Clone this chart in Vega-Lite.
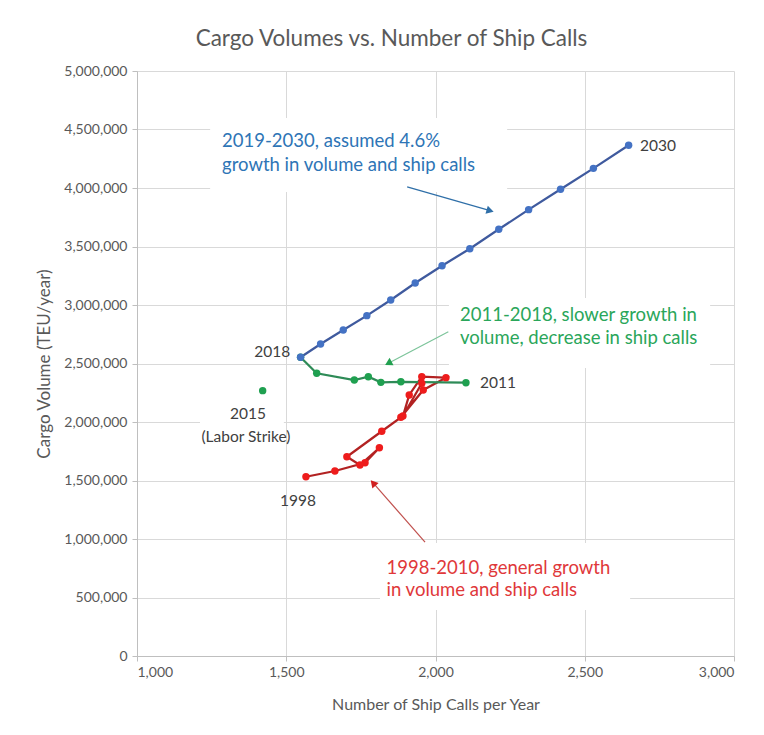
{
  "$schema": "https://vega.github.io/schema/vega-lite/v6.json",
  "width": 597,
  "height": 585,
  "autosize": "none",
  "padding": {"left": 137, "top": 71, "right": 30, "bottom": 79},
  "background": "white",
  "title": {
    "text": "Cargo Volumes vs. Number of Ship Calls",
    "font": "Lato",
    "fontSize": 22.5,
    "fontWeight": "normal",
    "color": "#595959",
    "anchor": "middle",
    "offset": 14,
    "dx": -44
  },
  "config": {
    "view": {"stroke": null},
    "axis": {
      "labelFont": "Lato",
      "titleFont": "Lato",
      "labelColor": "#595959",
      "titleColor": "#595959",
      "labelFontSize": 14,
      "titleFontSize": 16,
      "titleFontWeight": "normal",
      "gridColor": "#d9d9d9",
      "gridWidth": 1,
      "domainColor": "#bfbfbf",
      "tickColor": "#bfbfbf",
      "tickSize": 5
    }
  },
  "datasets": {
    "series": [
      {"series": "1998-2010", "seq": 1, "calls": 1566, "teu": 1532000},
      {"series": "1998-2010", "seq": 2, "calls": 1663, "teu": 1581000},
      {"series": "1998-2010", "seq": 3, "calls": 1764, "teu": 1652000},
      {"series": "1998-2010", "seq": 4, "calls": 1812, "teu": 1780000},
      {"series": "1998-2010", "seq": 5, "calls": 1747, "teu": 1632000},
      {"series": "1998-2010", "seq": 6, "calls": 1703, "teu": 1703000},
      {"series": "1998-2010", "seq": 7, "calls": 1820, "teu": 1921000},
      {"series": "1998-2010", "seq": 8, "calls": 1884, "teu": 2040000},
      {"series": "1998-2010", "seq": 9, "calls": 1959, "teu": 2274000},
      {"series": "1998-2010", "seq": 10, "calls": 2035, "teu": 2379000},
      {"series": "1998-2010", "seq": 11, "calls": 1954, "teu": 2387000},
      {"series": "1998-2010", "seq": 12, "calls": 1912, "teu": 2231000},
      {"series": "1998-2010", "seq": 13, "calls": 1891, "teu": 2051000},
      {"series": "1998-2010", "seq": 14, "calls": 1954, "teu": 2331000},
      {"series": "2011-2018", "seq": 2011, "calls": 2102, "teu": 2336000},
      {"series": "2011-2018", "seq": 2012, "calls": 1884, "teu": 2344000},
      {"series": "2011-2018", "seq": 2013, "calls": 1817, "teu": 2339000},
      {"series": "2011-2018", "seq": 2014, "calls": 1775, "teu": 2387000},
      {"series": "2011-2018", "seq": 2016, "calls": 1728, "teu": 2359000},
      {"series": "2011-2018", "seq": 2017, "calls": 1602, "teu": 2416000},
      {"series": "2011-2018", "seq": 2018, "calls": 1548, "teu": 2553000},
      {"series": "2015", "seq": 2015, "calls": 1421, "teu": 2268000},
      {"series": "2019-2030", "seq": 2018, "calls": 1548, "teu": 2553000},
      {"series": "2019-2030", "seq": 2019, "calls": 1615, "teu": 2667000},
      {"series": "2019-2030", "seq": 2020, "calls": 1691, "teu": 2786000},
      {"series": "2019-2030", "seq": 2021, "calls": 1770, "teu": 2909000},
      {"series": "2019-2030", "seq": 2022, "calls": 1850, "teu": 3043000},
      {"series": "2019-2030", "seq": 2023, "calls": 1932, "teu": 3188000},
      {"series": "2019-2030", "seq": 2024, "calls": 2022, "teu": 3336000},
      {"series": "2019-2030", "seq": 2025, "calls": 2115, "teu": 3481000},
      {"series": "2019-2030", "seq": 2026, "calls": 2212, "teu": 3647000},
      {"series": "2019-2030", "seq": 2027, "calls": 2312, "teu": 3815000},
      {"series": "2019-2030", "seq": 2028, "calls": 2419, "teu": 3989000},
      {"series": "2019-2030", "seq": 2029, "calls": 2529, "teu": 4168000},
      {"series": "2019-2030", "seq": 2030, "calls": 2647, "teu": 4365000}
    ],
    "boxes": [
      {"box": "blue", "x1": 1245, "x2": 2240, "y1": 4598000, "y2": 3966000},
      {"box": "green", "x1": 2045, "x2": 2920, "y1": 3060000, "y2": 2462000},
      {"box": "red", "x1": 1814, "x2": 2652, "y1": 966000, "y2": 393000},
      {"box": "strike", "x1": 1211, "x2": 1492, "y1": 2162000, "y2": 1786000}
    ],
    "arrows": [
      {"group": "blue", "x1": 1905, "y1": 4009000, "x2": 2183, "y2": 3806000},
      {"group": "green", "x1": 2043, "y1": 2772000, "x2": 1842, "y2": 2502000},
      {"group": "red", "x1": 1965, "y1": 974000, "x2": 1791, "y2": 1479000}
    ],
    "notes": [
      {"group": "blue", "text": "2019-2030, assumed 4.6%", "calls": 1285, "teu": 4402000},
      {"group": "blue", "text": "growth in volume and ship calls", "calls": 1285, "teu": 4197000},
      {"group": "green", "text": "2011-2018, slower growth in", "calls": 2082, "teu": 2915000},
      {"group": "green", "text": "volume, decrease in ship calls", "calls": 2082, "teu": 2715000},
      {"group": "red", "text": "1998-2010, general growth", "calls": 1836, "teu": 750000},
      {"group": "red", "text": "in volume and ship calls", "calls": 1836, "teu": 564000}
    ],
    "labels": [
      {"text": "2030", "calls": 2685, "teu": 4359000, "align": "left"},
      {"text": "2011", "calls": 2149, "teu": 2333000, "align": "left"},
      {"text": "2018", "calls": 1513, "teu": 2598000, "align": "right"},
      {"text": "2015", "calls": 1372, "teu": 2068000, "align": "center"},
      {"text": "(Labor Strike)", "calls": 1365, "teu": 1872000, "align": "center"},
      {"text": "1998", "calls": 1539, "teu": 1325000, "align": "center"}
    ]
  },
  "resolve": {"scale": {"color": "independent", "fill": "independent"}},
  "layer": [
    {
      "data": {"name": "boxes"},
      "mark": {"type": "rect", "color": "white"},
      "encoding": {
        "x": {"field": "x1", "type": "quantitative", "scale": {"domain": [1000, 3000], "nice": false},
          "axis": {"values": [1000, 1500, 2000, 2500, 3000], "format": ",d", "grid": true, "title": "Number of Ship Calls per Year", "labelPadding": 4, "titlePadding": 17}},
        "x2": {"field": "x2"},
        "y": {"field": "y1", "type": "quantitative", "scale": {"domain": [0, 5000000], "nice": false},
          "axis": {"values": [0, 500000, 1000000, 1500000, 2000000, 2500000, 3000000, 3500000, 4000000, 4500000, 5000000], "format": ",d", "grid": true, "title": "Cargo Volume (TEU/year)", "titleFontSize": 17, "labelPadding": 5, "titlePadding": 10}},
        "y2": {"field": "y2"}
      }
    },
    {
      "data": {"name": "arrows"},
      "mark": {"type": "rule", "strokeWidth": 1.2},
      "encoding": {
        "x": {"field": "x1", "type": "quantitative"},
        "y": {"field": "y1", "type": "quantitative"},
        "x2": {"field": "x2"},
        "y2": {"field": "y2"},
        "color": {"field": "group", "type": "nominal", "legend": null,
          "scale": {"domain": ["blue", "green", "red"], "range": ["#2f6fa8", "#7cc49a", "#c0504d"]}}
      }
    },
    {
      "data": {"name": "arrows"},
      "transform": [{"filter": "datum.group === 'blue'"}],
      "mark": {"type": "point", "shape": "triangle-up", "filled": true, "size": 70, "angle": 106, "color": "#2f6fa8", "opacity": 1},
      "encoding": {"x": {"field": "x2", "type": "quantitative"}, "y": {"field": "y2", "type": "quantitative"}}
    },
    {
      "data": {"name": "arrows"},
      "transform": [{"filter": "datum.group === 'green'"}],
      "mark": {"type": "point", "shape": "triangle-up", "filled": true, "size": 70, "angle": 242, "color": "#22a050", "opacity": 1},
      "encoding": {"x": {"field": "x2", "type": "quantitative"}, "y": {"field": "y2", "type": "quantitative"}}
    },
    {
      "data": {"name": "arrows"},
      "transform": [{"filter": "datum.group === 'red'"}],
      "mark": {"type": "point", "shape": "triangle-up", "filled": true, "size": 70, "angle": 319, "color": "#d02020", "opacity": 1},
      "encoding": {"x": {"field": "x2", "type": "quantitative"}, "y": {"field": "y2", "type": "quantitative"}}
    },
    {
      "data": {"name": "series"},
      "mark": {"type": "line", "strokeWidth": 2.25},
      "encoding": {
        "x": {"field": "calls", "type": "quantitative"},
        "y": {"field": "teu", "type": "quantitative"},
        "order": {"field": "seq", "type": "quantitative"},
        "color": {"field": "series", "type": "nominal", "legend": null,
          "scale": {"domain": ["1998-2010", "2011-2018", "2015", "2019-2030"], "range": ["#b22222", "#2e8b57", "#2e8b57", "#3f5a9e"]}}
      }
    },
    {
      "data": {"name": "series"},
      "mark": {"type": "circle", "size": 55, "opacity": 1},
      "encoding": {
        "x": {"field": "calls", "type": "quantitative"},
        "y": {"field": "teu", "type": "quantitative"},
        "fill": {"field": "series", "type": "nominal", "legend": null,
          "scale": {"domain": ["1998-2010", "2011-2018", "2015", "2019-2030"], "range": ["#ee1c1c", "#1fa050", "#1fa050", "#4472c4"]}}
      }
    },
    {
      "data": {"name": "notes"},
      "mark": {"type": "text", "align": "left", "baseline": "middle", "font": "Lato", "fontSize": 18.5},
      "encoding": {
        "x": {"field": "calls", "type": "quantitative"},
        "y": {"field": "teu", "type": "quantitative"},
        "text": {"field": "text"},
        "color": {"field": "group", "type": "nominal", "legend": null,
          "scale": {"domain": ["blue", "green", "red"], "range": ["#2e75b6", "#2aa65a", "#e0383a"]}}
      }
    },
    {
      "data": {"name": "labels"},
      "transform": [{"filter": "datum.align === 'left'"}],
      "mark": {"type": "text", "align": "left", "baseline": "middle", "font": "Lato", "fontSize": 15.5, "color": "#404040"},
      "encoding": {"x": {"field": "calls", "type": "quantitative"}, "y": {"field": "teu", "type": "quantitative"}, "text": {"field": "text"}}
    },
    {
      "data": {"name": "labels"},
      "transform": [{"filter": "datum.align === 'right'"}],
      "mark": {"type": "text", "align": "right", "baseline": "middle", "font": "Lato", "fontSize": 15.5, "color": "#404040"},
      "encoding": {"x": {"field": "calls", "type": "quantitative"}, "y": {"field": "teu", "type": "quantitative"}, "text": {"field": "text"}}
    },
    {
      "data": {"name": "labels"},
      "transform": [{"filter": "datum.align === 'center'"}],
      "mark": {"type": "text", "align": "center", "baseline": "middle", "font": "Lato", "fontSize": 15.5, "color": "#404040"},
      "encoding": {"x": {"field": "calls", "type": "quantitative"}, "y": {"field": "teu", "type": "quantitative"}, "text": {"field": "text"}}
    }
  ]
}
